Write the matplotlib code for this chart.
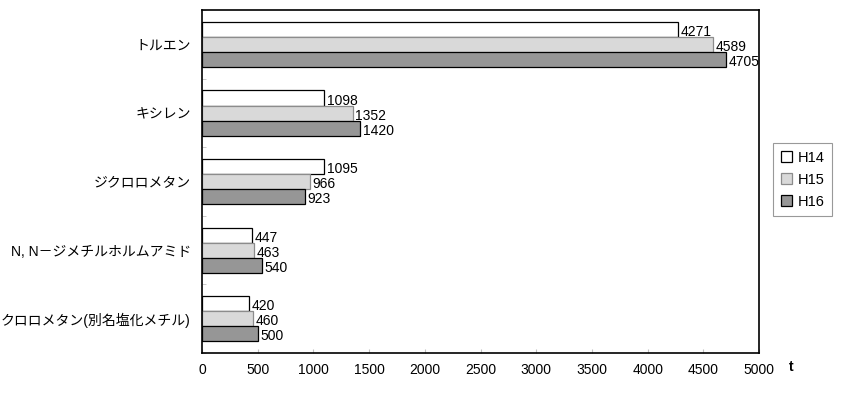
import matplotlib
matplotlib.use("Agg")
import matplotlib.pyplot as plt
import numpy as np

plt.rcParams['font.family'] = ['Liberation Sans', 'Noto Sans CJK JP', 'DejaVu Sans']

# --- données ---
categories = ["トルエン", "キシレン", "ジクロロメタン",
              "N, N－ジメチルホルムアミド", "クロロメタン(別名塩化メチル)"]
series_names = ["H14", "H15", "H16"]
h14 = [4271, 1098, 1095, 447, 420]
h15 = [4589, 1352, 966, 463, 460]
h16 = [4705, 1420, 923, 540, 500]
x_ticks = [0, 500, 1000, 1500, 2000, 2500, 3000, 3500, 4000, 4500, 5000]

colors = ["#ffffff", "#d9d9d9", "#969696"]
edges = ["#000000", "#8c8c8c", "#000000"]

fig = plt.figure(figsize=(8.52, 3.95), dpi=100)
ax = fig.add_axes([0.237, 0.1063, 0.654, 0.868])

n = len(categories)
ypos = np.arange(n)
bh = 0.219
handles = []
for k, vals in enumerate([h14, h15, h16]):
    y = ypos + (k - 1) * bh
    b = ax.barh(y, vals, height=bh, color=colors[k], edgecolor=edges[k],
                linewidth=0.9, label=series_names[k])
    handles.append(b)
    for yy, v in zip(y, vals):
        ax.text(v + 25, yy + 0.04, str(v), ha='left', va='center', fontsize=10)

ax.set_xlim(0, 5000)
ax.set_ylim(n - 0.5, -0.5)
ax.set_xticks(x_ticks)
ax.set_xticklabels([str(t) for t in x_ticks], fontsize=10)
ax.tick_params(axis='x', direction='in', length=3, color='#c0c0c0', pad=7)

# petites marques entre catégories
ax.set_yticks(np.arange(n + 1) - 0.5, minor=True)
ax.set_yticks(ypos)
ax.set_yticklabels(categories, fontsize=10)
ax.tick_params(axis='y', which='major', length=0, pad=8)
ax.tick_params(axis='y', which='minor', direction='in', length=3, color='#c0c0c0')

for s in ax.spines.values():
    s.set_linewidth(1.2)

fig.text(0.929, 0.1063 - 0.018, "t", fontsize=10, fontweight='bold',
         ha='center', va='top')

leg = fig.legend(handles=handles, labels=series_names, loc='center left',
                 bbox_to_anchor=(0.899, 0.545), frameon=True, fancybox=False,
                 fontsize=10.5, handlelength=0.8, handleheight=0.8,
                 handletextpad=0.4, borderpad=0.5, labelspacing=0.55,
                 edgecolor='#808080')
leg.get_frame().set_linewidth(0.8)

fig.savefig("out.png", dpi=100)
